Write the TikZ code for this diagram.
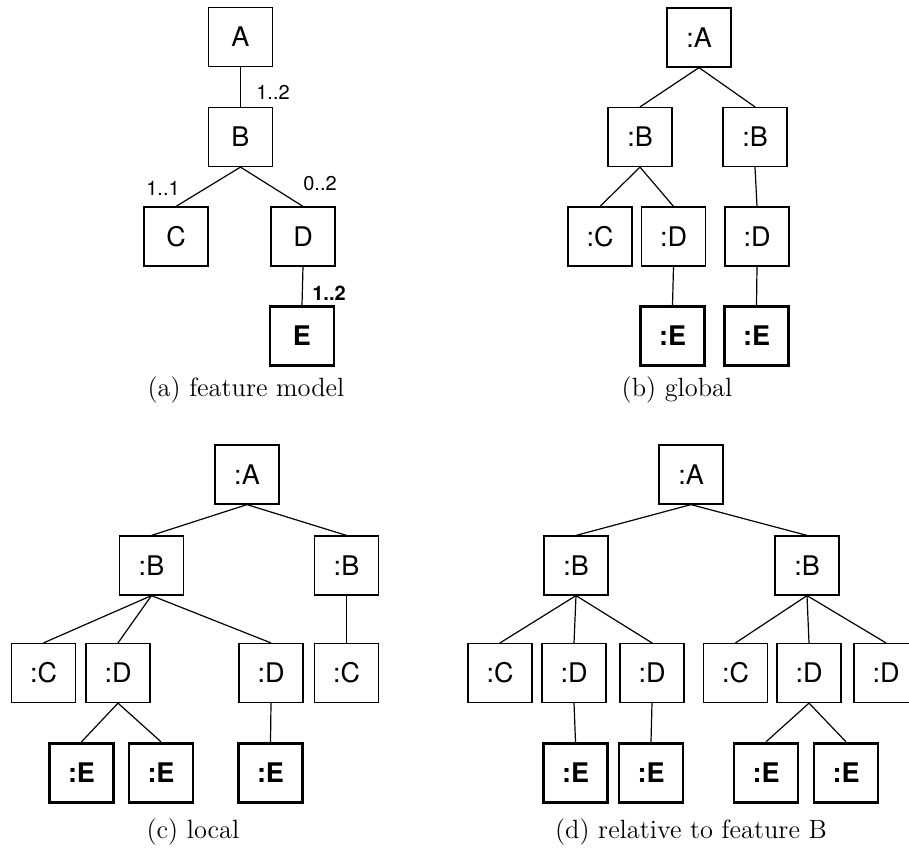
\documentclass[tikz,border=0pt]{standalone}
\usepackage{fontspec}
\newfontfamily\helv{TeX Gyre Heros}
\begin{document}
\begin{tikzpicture}[x=0.5pt,y=-0.5pt,
  fbox/.style={draw, line width=0.6pt, minimum width=32pt, minimum height=29.5pt,
    inner sep=0pt, font=\helv\fontsize{13.5}{15}\selectfont},
  ebox/.style={fbox, line width=1.4pt, font=\helv\bfseries\fontsize{13.5}{15}\selectfont},
  edge/.style={line width=0.6pt},
  card/.style={inner sep=0pt, font=\helv\fontsize{10}{12}\selectfont},
  bcard/.style={card, font=\helv\bfseries\fontsize{10}{12}\selectfont},
  caption/.style={inner sep=0pt, anchor=base, font=\fontsize{13.2}{16}\selectfont}]
\useasboundingbox (0,0) rectangle (909,848);
\clip (0,0) rectangle (909,848);

% (a) feature model
\node[fbox] (aA) at (240.5,37) {A};
\node[fbox] (aB) at (240.5,137) {B};
\node[fbox] (aC) at (176,236.5) {C};
\node[fbox] (aD) at (303,236.5) {D};
\node[ebox] (aE) at (302,336) {E};
\draw[edge] (aA.south) -- (aB.north);
\draw[edge] (aB.south) -- (aC.north);
\draw[edge] (aB.south) -- (aD.north);
\draw[edge] (aD.south) -- (aE.north);
\node[card] (c1) at (273,92) {1..2};
\node[card] (c2) at (163,188) {1..1};
\node[card] (c3) at (320,184) {0..2};
\node[bcard] (c4) at (329,293) {1..2};
\node[caption] (capa) at (246,396) {(a) feature model};

% (b) global
\node[fbox] (bA) at (699,37.5) {:A};
\node[fbox] (bB1) at (640,137) {:B};
\node[fbox] (bB2) at (755,137) {:B};
\node[fbox] (bC) at (600,236.5) {:C};
\node[fbox] (bD1) at (673.5,236.5) {:D};
\node[fbox] (bD2) at (757,236.5) {:D};
\node[ebox] (bE1) at (672.5,336) {:E};
\node[ebox] (bE2) at (756.5,336) {:E};
\draw[edge] (bA.south) -- (bB1.north);
\draw[edge] (bA.south) -- (bB2.north);
\draw[edge] (bB1.south) -- (bC.north);
\draw[edge] (bB1.south) -- (bD1.north);
\draw[edge] (bB2.south) -- (bD2.north);
\draw[edge] (bD1.south) -- (bE1.north);
\draw[edge] (bD2.south) -- (bE2.north);
\node[caption] (capb) at (677,396) {(b) global};

% (c) local
\node[fbox] (cA) at (247,474.5) {:A};
\node[fbox] (cB1) at (151.5,565.5) {:B};
\node[fbox] (cB2) at (346.5,565.5) {:B};
\node[fbox] (cC1) at (43.5,673) {:C};
\node[fbox] (cD1) at (118,673) {:D};
\node[fbox] (cD2) at (271,673) {:D};
\node[fbox] (cC2) at (346.5,673) {:C};
\node[ebox] (cE1) at (81.5,772.7) {:E};
\node[ebox] (cE2) at (161,772.7) {:E};
\node[ebox] (cE3) at (270.5,772.7) {:E};
\draw[edge] (cA.south) -- (cB1.north);
\draw[edge] (cA.south) -- (cB2.north);
\draw[edge] (cB1.south) -- (cC1.north);
\draw[edge] (cB1.south) -- (cD1.north);
\draw[edge] (cB1.south) -- (cD2.north);
\draw[edge] (cB2.south) -- (cC2.north);
\draw[edge] (cD1.south) -- (cE1.north);
\draw[edge] (cD1.south) -- (cE2.north);
\draw[edge] (cD2.south) -- (cE3.north);
\node[caption] (capc) at (193,838) {(c) local};

% (d) relative to feature B
\node[fbox] (dA) at (691,474.5) {:A};
\node[fbox] (dB1) at (576,565.5) {:B};
\node[fbox] (dB2) at (807,565.5) {:B};
\node[fbox] (dC1) at (500,673) {:C};
\node[fbox] (dD1) at (574,673) {:D};
\node[fbox] (dD2) at (652,673) {:D};
\node[fbox] (dC2) at (735.5,673) {:C};
\node[fbox] (dD3) at (809,673) {:D};
\node[fbox] (dD4) at (886,673) {:D};
\node[ebox] (dE1) at (575.5,772.7) {:E};
\node[ebox] (dE2) at (651,772.7) {:E};
\node[ebox] (dE3) at (766,772.7) {:E};
\node[ebox] (dE4) at (846,772.7) {:E};
\draw[edge] (dA.south) -- (dB1.north);
\draw[edge] (dA.south) -- (dB2.north);
\draw[edge] (dB1.south) -- (dC1.north);
\draw[edge] (dB1.south) -- (dD1.north);
\draw[edge] (dB1.south) -- (dD2.north);
\draw[edge] (dB2.south) -- (dC2.north);
\draw[edge] (dB2.south) -- (dD3.north);
\draw[edge] (dB2.south) -- (dD4.north);
\draw[edge] (dD1.south) -- (dE1.north);
\draw[edge] (dD2.south) -- (dE2.north);
\draw[edge] (dD3.south) -- (dE3.north);
\draw[edge] (dD3.south) -- (dE4.north);
\node[caption] (capd) at (691,838) {(d) relative to feature B};
\end{tikzpicture}
\end{document}
